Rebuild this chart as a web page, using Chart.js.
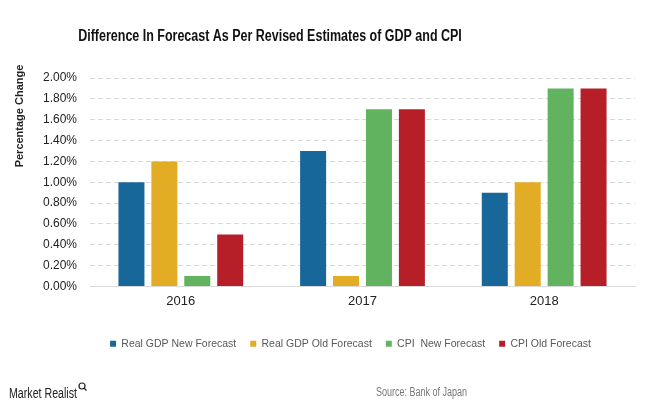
<!DOCTYPE html>
<html>
<head>
<meta charset="utf-8">
<script src="https://cdn.jsdelivr.net/npm/chart.js@4"></script>
<style>
  html, body { margin: 0; padding: 0; background: #fff; }
  #wrap { width: 648px; height: 413px; position: relative; }
</style>
</head>
<body>
<div id="wrap"><canvas id="gdpChart" width="648" height="413"></canvas></div>
<script>
const years = ['2016', '2017', '2018'];
const gdpNew = [1.0, 1.3, 0.9];
const gdpOld = [1.2, 0.1, 1.0];
const cpiNew = [0.1, 1.7, 1.9];
const cpiOld = [0.5, 1.7, 1.9];
const seriesNames = ['Real GDP New Forecast', 'Real GDP Old Forecast', 'CPI  New Forecast', 'CPI Old Forecast'];
const seriesColors = ['#17679a', '#e2ac24', '#61b35f', '#b71f28'];

const chartTitle = 'Difference In Forecast As Per Revised Estimates of GDP and CPI';
const yTitle = 'Percentage Change';
const sourceText = 'Source: Bank of Japan';
const brandText = 'Market Realist';

const sans = '"Liberation Sans", Arial, sans-serif';

const makeSet = (i, values) => ({
    label: seriesNames[i],
    data: values,
    backgroundColor: seriesColors[i],
    borderWidth: 0,
    categoryPercentage: 0.725,
    barPercentage: 0.79
});

// squeezed text, the original uses a narrow face
function narrowText(c, text, x, y, font, color, squeeze, align) {
    c.save();
    c.font = font;
    c.fillStyle = color;
    c.textBaseline = 'middle';
    c.textAlign = align;
    c.translate(x, y);
    c.scale(squeeze, 1);
    c.fillText(text, 0, 0);
    const w = c.measureText(text).width * squeeze;
    c.restore();
    return w;
}

// extra texts: title, rotated axis title, footer
const textsPlugin = {
    id: 'texts',
    afterLayout(chart) {
        // legend sits a little left of the plot centre in the original
        chart.legend.left -= 12;
        chart.legend.right -= 12;
    },
    afterDraw(chart) {
        const c = chart.ctx;
        narrowText(c, chartTitle, 270, 37, 'bold 16px ' + sans, '#111', 0.78, 'center');

        c.save();
        c.translate(20, 116);
        c.rotate(-Math.PI / 2);
        c.textBaseline = 'middle';
        c.textAlign = 'center';
        c.font = 'bold 11px ' + sans;
        c.fillStyle = '#222';
        c.fillText(yTitle, 0, 0);
        c.restore();

        const w = narrowText(c, brandText, 9, 394, '14px ' + sans, '#222', 0.76, 'left');
        // little magnifier mark
        c.save();
        c.strokeStyle = '#222';
        c.lineWidth = 1.2;
        c.beginPath();
        c.arc(9 + w + 5, 386, 3, 0, Math.PI * 2);
        c.stroke();
        c.beginPath();
        c.moveTo(9 + w + 7, 388);
        c.lineTo(9 + w + 9.5, 390.5);
        c.stroke();
        c.restore();

        narrowText(c, sourceText, 376, 393, '12px ' + sans, '#777', 0.75, 'left');
    }
};

new Chart(document.getElementById('gdpChart'), {
    type: 'bar',
    data: {
        labels: years,
        datasets: [makeSet(0, gdpNew), makeSet(1, gdpOld), makeSet(2, cpiNew), makeSet(3, cpiOld)]
    },
    options: {
        responsive: false,
        animation: false,
        layout: { padding: { top: 78, left: 0, right: 13, bottom: 54 } },
        plugins: {
            tooltip: { enabled: false },
            legend: {
                position: 'bottom',
                fullSize: false,
                labels: {
                    boxWidth: 6,
                    boxHeight: 6,
                    padding: 14,
                    color: '#595959',
                    font: { size: 10.5, family: sans }
                }
            }
        },
        scales: {
            x: {
                grid: { display: false, drawTicks: false },
                border: { display: true, color: '#d9d9d9', width: 1 },
                ticks: { color: '#222', font: { size: 13, family: sans }, padding: 7 },
                afterFit(s) { s.height = 38; }
            },
            y: {
                min: 0,
                max: 2,
                grid: { color: '#d9d9d9', drawTicks: false },
                border: { display: false, dash: [5, 3] },
                ticks: {
                    stepSize: 0.2,
                    color: '#222',
                    padding: 13,
                    font: { size: 12, family: sans },
                    callback: v => v.toFixed(2) + '%'
                },
                afterFit(s) { s.width = 90; }
            }
        }
    },
    plugins: [textsPlugin]
});
</script>
</body>
</html>
